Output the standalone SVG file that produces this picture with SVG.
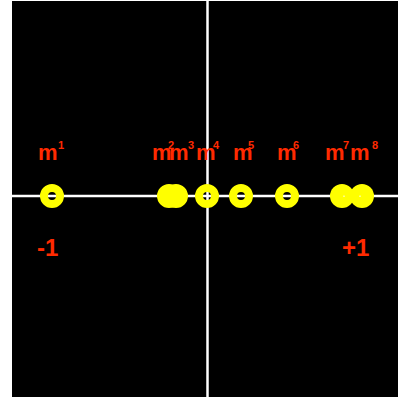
<svg xmlns="http://www.w3.org/2000/svg" width="398" height="397" viewBox="0 0 398 397">
<style>
.lbl{font-family:"Liberation Sans",Arial,sans-serif;font-weight:bold;fill:#ff2a00}
.m{font-size:22px}
.sup{font-size:11px}
.big{font-size:24px}
.ring{fill:none;stroke:#ffff00;stroke-width:8}
.disc{fill:#ffff00}
.axis{stroke:#ffffff;stroke-width:2.5}
</style>
<rect x="0" y="0" width="398" height="397" fill="#ffffff"/>
<rect x="12" y="1" width="386" height="396" fill="#000000"/>
<g id="connectors">
<line class="axis" x1="12" y1="196" x2="398" y2="196"/>
<line class="axis" x1="207.5" y1="1" x2="207.5" y2="397"/>
</g>
<g id="m1"><circle class="ring" cx="52" cy="196" r="8"/><text class="lbl m" x="38" y="160">m</text><text class="lbl sup" x="58" y="149">1</text></g>
<g id="m2"><circle class="ring" cx="169" cy="196" r="8"/><text class="lbl m" x="152" y="160">m</text><text class="lbl sup" x="168" y="149">2</text></g>
<g id="m3"><circle class="ring" cx="176" cy="196" r="8"/><circle class="disc" cx="169" cy="196" r="5"/><text class="lbl m" x="169" y="160">m</text><text class="lbl sup" x="188" y="149">3</text></g>
<g id="m4"><circle class="ring" cx="207" cy="196" r="8"/><text class="lbl m" x="196" y="160">m</text><text class="lbl sup" x="213" y="149">4</text></g>
<g id="m5"><circle class="ring" cx="241" cy="196" r="8"/><text class="lbl m" x="233" y="160">m</text><text class="lbl sup" x="248" y="149">5</text></g>
<g id="m6"><circle class="ring" cx="287" cy="196" r="8"/><text class="lbl m" x="277" y="160">m</text><text class="lbl sup" x="293" y="149">6</text></g>
<g id="m7"><circle class="disc" cx="342" cy="196" r="12"/><text class="lbl m" x="325" y="160">m</text><text class="lbl sup" x="343" y="149">7</text></g>
<g id="m8"><circle class="disc" cx="362" cy="196" r="12"/><rect x="343.5" y="195.5" width="1" height="1.5" fill="#ffffff"/><rect x="359.5" y="195.5" width="1" height="1.5" fill="#ffffff"/><text class="lbl m" x="350" y="160">m</text><text class="lbl sup" x="372" y="149">8</text></g>
<g id="minus1"><text class="lbl big" x="37" y="256">-1</text></g>
<g id="plus1"><text class="lbl big" x="342" y="256">+1</text></g>
</svg>
